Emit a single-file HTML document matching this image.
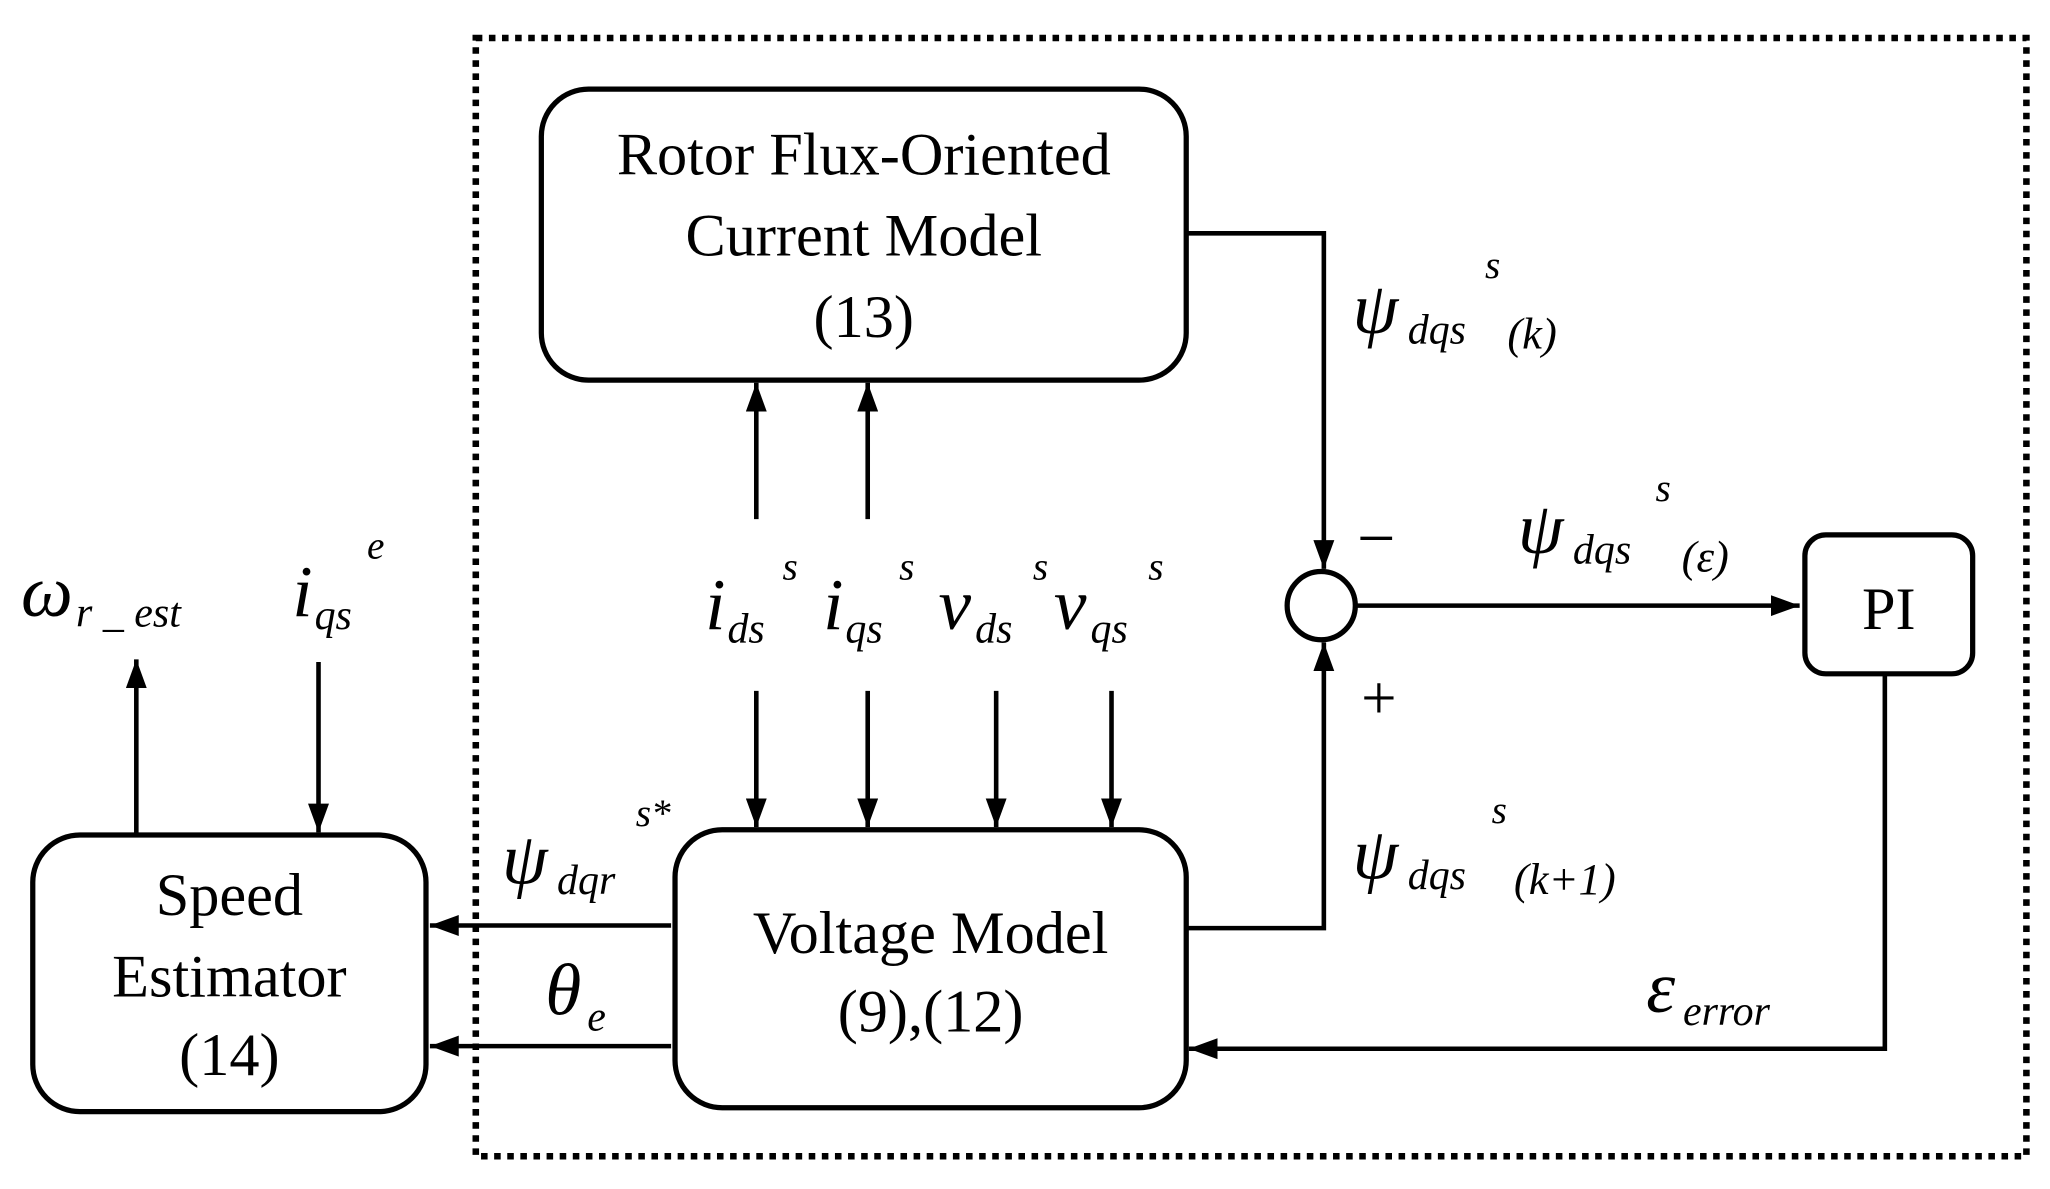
<!DOCTYPE html>
<html><head><meta charset="utf-8"><style>
html,body{margin:0;padding:0;background:#fff;width:2050px;height:1189px;overflow:hidden}
svg{display:block}
text{font-family:"Liberation Serif",serif;fill:#000}
.i{font-style:italic}
</style></head><body>
<svg width="2050" height="1189" viewBox="0 0 1564 907" preserveAspectRatio="none">
<defs>
<marker id="b" viewBox="0 0 22 16" refX="22" refY="8" markerWidth="22" markerHeight="16" orient="auto" markerUnits="userSpaceOnUse"><path d="M0,0 L22,8 L0,16 z"/></marker></defs>
<rect x="363" y="29" width="1183" height="853" fill="none" stroke="#000" stroke-width="5" stroke-dasharray="5,5"/>
<g fill="none" stroke="#000" stroke-width="4">
<rect x="413" y="68" width="492" height="222" rx="36"/>
<rect x="515" y="633" width="390" height="212" rx="36"/>
<rect x="25" y="637" width="300" height="211" rx="36"/>
<rect x="1377" y="408" width="128" height="106" rx="16"/>
<circle cx="1008" cy="462" r="26"/>
</g>
<g fill="none" stroke="#000" stroke-width="3.5" marker-end="url(#b)">
<path d="M905,178 H1010 V434"/>
<path d="M1034,462 H1373"/>
<path d="M905,708 H1010 V490"/>
<path d="M1438,514 V800 H907"/>
<path d="M577,396 V292"/>
<path d="M662,396 V292"/>
<path d="M577,527 V631"/>
<path d="M662,527 V631"/>
<path d="M760,527 V631"/>
<path d="M848,527 V631"/>
<path d="M104,637 V503"/>
<path d="M243,505 V635"/>
<path d="M512,706 H328"/>
<path d="M512,798 H328"/>
</g>
<g font-size="46" text-anchor="middle">
<text x="659" y="133">Rotor Flux-Oriented</text>
<text x="659" y="195">Current Model</text>
<text x="659" y="257">(13)</text>
<text x="710" y="727">Voltage Model</text>
<text x="710" y="787">(9),(12)</text>
<text x="175" y="698">Speed</text>
<text x="175" y="760">Estimator</text>
<text x="175" y="820">(14)</text>
<text x="1441" y="480">PI</text>
<text x="1050" y="428" font-size="52">−</text>
<text x="1052" y="548" font-size="48">+</text>
</g>
<g class="i">
<text x="1032" y="254" font-size="56">ψ</text><text x="1074" y="262" font-size="32">dqs</text><text x="1133" y="212" font-size="30">s</text><text x="1150" y="266" font-size="34">(k)</text>
<text x="1158" y="422" font-size="56">ψ</text><text x="1200" y="430" font-size="32">dqs</text><text x="1263" y="382" font-size="30">s</text><text x="1283" y="436" font-size="34">(ε)</text>
<text x="1032" y="670" font-size="56">ψ</text><text x="1074" y="678" font-size="32">dqs</text><text x="1138" y="628" font-size="30">s</text><text x="1155" y="682" font-size="34">(k+1)</text>
<text x="1256" y="772" font-size="56">ε</text><text x="1284" y="782" font-size="32">error</text>
<text x="383" y="674" font-size="56">ψ</text><text x="425" y="682" font-size="32">dqr</text><text x="485" y="630" font-size="30">s*</text>
<text x="416" y="774" font-size="56">θ</text><text x="448" y="786" font-size="32">e</text>
<text x="16" y="470" font-size="56">ω</text><text x="58" y="478" font-size="32">r _ est</text>
<text x="223" y="470" font-size="56">i</text><text x="240" y="480" font-size="32">qs</text><text x="280" y="426" font-size="30">e</text>
<text x="538" y="480" font-size="56">i</text><text x="555" y="490" font-size="32">ds</text><text x="597" y="442" font-size="30">s</text>
<text x="628" y="480" font-size="56">i</text><text x="645" y="490" font-size="32">qs</text><text x="686" y="442" font-size="30">s</text>
<text x="716" y="480" font-size="56">v</text><text x="744" y="490" font-size="32">ds</text><text x="788" y="442" font-size="30">s</text>
<text x="804" y="480" font-size="56">v</text><text x="832" y="490" font-size="32">qs</text><text x="876" y="442" font-size="30">s</text>
</g>
</svg>
</body></html>
